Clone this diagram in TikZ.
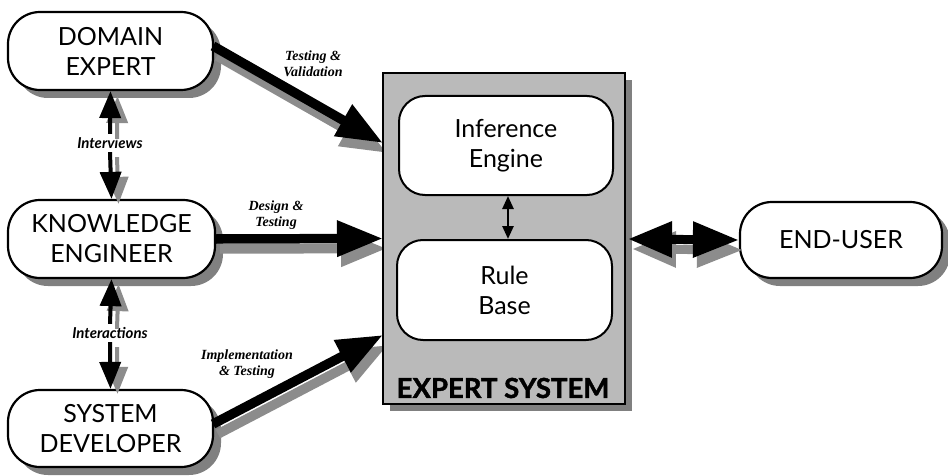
\documentclass[tikz,border=0pt]{standalone}
\usepackage{fontspec}
\setmainfont{Lato}
\newfontfamily\annotfont{Liberation Serif}
\usetikzlibrary{arrows.meta,shadows}

\tikzset{
  shadowfill/.style={fill=black!50, opacity=1},
  actor/.style={draw, line width=2.2pt, rounded corners=32pt, fill=white,
    minimum width=205pt, minimum height=78pt, align=center, inner sep=0pt,
    font=\fontsize{25}{30}\selectfont,
    drop shadow={shadow xshift=8pt, shadow yshift=-8pt, shadowfill}},
  part/.style={draw, line width=2pt, rounded corners=26pt, fill=white,
    minimum width=214pt, minimum height=99pt, align=center, inner sep=0pt,
    font=\fontsize{25}{30}\selectfont},
  system/.style={draw, line width=2.4pt, fill=black!27,
    minimum width=242pt, minimum height=331pt, inner sep=0pt,
    drop shadow={shadow xshift=7pt, shadow yshift=-7pt, shadowfill}},
  flow/.style={line width=9.5pt, -{Triangle[length=46pt,width=34pt]}},
  flowshadow/.style={flow, draw=black!45},
  userflow/.style={line width=9pt,
    {Triangle[length=44pt,width=34pt]}-{Triangle[length=46pt,width=34pt]}},
  link/.style={line width=4pt, -{Triangle[length=27pt,width=21pt]}},
  linkshadow/.style={link, draw=black!45},
  flowlabel/.style={font=\annotfont\bfseries\itshape\fontsize{14}{16}\selectfont, align=center},
  linklabel/.style={font=\bfseries\itshape\fontsize{15}{17}\selectfont},
}

\begin{document}
\begin{tikzpicture}[x=1pt,y=-1pt]
  \fill[white] (0,0) rectangle (948,476);
  \useasboundingbox (0,0) rectangle (948,476);

  % people around the system
  \node[actor] (de) at (110.5,51) {DOMAIN\\EXPERT};
  \node[actor, minimum width=207pt] (ke) at (111.5,239) {KNOWLEDGE\\ENGINEER};
  \node[actor, minimum height=77pt] (sd) at (110.5,428.5) {SYSTEM\\DEVELOPER};
  \node[actor, minimum width=202pt, minimum height=76pt] (eu) at (841,240) {END-USER};

  % entry points on the system box
  \coordinate (inA) at (383,143);
  \coordinate (inB) at (383,238.5);
  \coordinate (inC) at (383,335);
  \coordinate (outD) at (628,239);
  \coordinate (deOut) at (213,46);
  \coordinate (sdOut) at (213,424);

  % shadows of the thick arrows
  \draw[flowshadow] ([xshift=4pt,yshift=-10pt]deOut) -- ([xshift=4pt,yshift=-10pt]inA);
  \draw[flowshadow] ([xshift=4pt,yshift=-10pt]ke.east) -- ([xshift=4pt,yshift=-10pt]inB);
  \draw[flowshadow] ([xshift=5pt,yshift=-10pt]sdOut) -- ([xshift=5pt,yshift=-10pt]inC);
  \draw[userflow, draw=black!45] ([xshift=4pt,yshift=-10pt]outD) -- ([xshift=4pt,yshift=-10pt]eu.west);

  % the expert system and its parts
  \node[system] (es) at (504,238.5) {};
  \node[part] (ie) at (506,145.5) {Inference\\Engine};
  \node[part, minimum width=215pt, minimum height=100pt] (rb) at (504.5,290) {Rule\\Base};
  \node[font=\bfseries\addfontfeatures{FakeBold=1.5}\fontsize{27.5}{30}\selectfont] (est) at (503,388) {EXPERT SYSTEM};
  \draw[line width=2.6pt, {Triangle[length=13pt,width=11pt]}-{Triangle[length=13pt,width=11pt]}]
    ([xshift=2pt]ie.south) -- ([xshift=2pt]ie.south |- rb.north);

  % thick arrows into and out of the system
  \draw[flow] (deOut) -- (inA);
  \draw[flow] (ke.east) -- (inB);
  \draw[flow] (sdOut) -- (inC);
  \draw[userflow] (outD) -- (eu.west);

  \node[flowlabel] (lA) at (313,64) {Testing \&\\Validation};
  \node[flowlabel] (lB) at (276,215) {Design \&\\Testing};
  \node[flowlabel] (lC) at (247,364) {Implementation\\\& Testing};

  % exchanges between the people
  \node[linklabel] (li) at (110,143) {Interviews};
  \node[linklabel] (lx) at (110,333) {Interactions};
  \draw[linkshadow] ([xshift=7pt,yshift=-5pt]li.north) -- ([xshift=7pt,yshift=-5pt]de.south);
  \draw[linkshadow] ([xshift=7pt,yshift=-5pt]li.south) -- ([xshift=7pt,yshift=-5pt]ke.north);
  \draw[linkshadow] ([xshift=7pt,yshift=-5pt]lx.north) -- ([xshift=7pt,yshift=-5pt]ke.south);
  \draw[linkshadow] ([xshift=7pt,yshift=-5pt]lx.south) -- ([xshift=7pt,yshift=-5pt]sd.north);
  \draw[link] (li.north) -- (de.south);
  \draw[link] (li.south) -- (ke.north);
  \draw[link] (lx.north) -- (ke.south);
  \draw[link] (lx.south) -- (sd.north);
\end{tikzpicture}
\end{document}
